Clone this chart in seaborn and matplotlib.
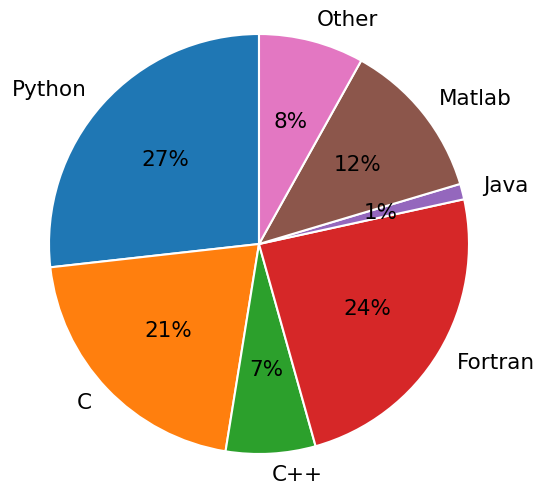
"""
Pie chart of programming language usage
"""

import matplotlib
matplotlib.use('Agg')
import matplotlib.pyplot as plt
import seaborn as sns

languages = ['Python', 'C', 'C++', 'Fortran', 'Java', 'Matlab', 'Other']
shares = [26.8, 20.7, 6.9, 24.1, 1.2, 12.3, 8.1]

colors = sns.color_palette('tab10', len(languages))

fig = plt.figure(figsize=(5.38, 4.87), dpi=100)

# place the pie so its centre and radius match the layout
r_px = 210
size = 2.5 * r_px
ax = fig.add_axes([(259 - size / 2) / 538, (243 - size / 2) / 487,
                   size / 538, size / 487])

ax.pie(shares, labels=languages, colors=colors, autopct='%1.0f%%',
       startangle=90, counterclock=True,
       wedgeprops={'edgecolor': 'white', 'linewidth': 1.5},
       textprops={'fontsize': 15.5})
ax.set_aspect('equal')

fig.savefig('out.png', dpi=100)
